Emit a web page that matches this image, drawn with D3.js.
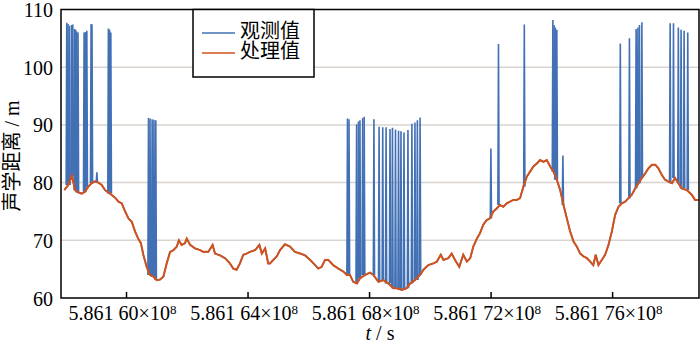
<!DOCTYPE html>
<html>
<head>
<meta charset="utf-8">
<script src="https://cdn.jsdelivr.net/npm/d3@7"></script>
<style>
  body { margin: 0; background: #fff; }
  svg text { font-family: "Liberation Serif", "Times New Roman", "Noto Sans CJK SC", serif; fill: #000; }
</style>
</head>
<body>
<script>
//Width and height
var w = 700;
var h = 348;
var plotLeft = 61, plotRight = 699, plotTop = 9.5, plotBottom = 298;

//Time: t - 5.861x10^8 s, in units of 10^3 s (so 60 means 5.861 60x10^8 s)
var timeK = [
  57.97, 58.10, 58.22, 58.32, 58.43, 58.54, 58.65, 58.76, 58.87, 58.98,
  59.09, 59.20, 59.31, 59.47, 59.64, 59.75, 59.86, 59.97, 60.08, 60.19,
  60.30, 60.40, 60.49, 60.57, 60.68, 60.79, 60.90, 61.01, 61.12, 61.23,
  61.34, 61.45, 61.56, 61.67, 61.74, 61.83, 61.94, 62.00, 62.11, 62.27,
  62.44, 62.54, 62.71, 62.85, 62.93, 63.09, 63.26, 63.42, 63.53, 63.64,
  63.75, 63.86, 63.97, 64.08, 64.25, 64.39, 64.47, 64.58, 64.68, 64.74,
  64.85, 64.96, 65.07, 65.23, 65.40, 65.56, 65.73, 65.89, 66.06, 66.17,
  66.33, 66.44, 66.55, 66.66, 66.82, 66.99, 67.15, 67.27, 67.37, 67.48,
  67.60, 67.70, 67.87, 68.03, 68.14, 68.31, 68.47, 68.64, 68.80, 68.91,
  69.08, 69.24, 69.35, 69.51, 69.68, 69.79, 69.95, 70.12, 70.23, 70.36,
  70.45, 70.61, 70.72, 70.83, 70.97, 71.10, 71.22, 71.33, 71.43, 71.55,
  71.65, 71.76, 71.87, 71.98, 72.09, 72.20, 72.31, 72.42, 72.53, 72.64,
  72.75, 72.86, 72.97, 73.08, 73.19, 73.30, 73.41, 73.52, 73.63, 73.74,
  73.85, 73.96, 74.07, 74.18, 74.29, 74.40, 74.51, 74.62, 74.73, 74.84,
  74.95, 75.06, 75.17, 75.28, 75.38, 75.46, 75.55, 75.66, 75.77, 75.88,
  75.99, 76.10, 76.21, 76.32, 76.43, 76.54, 76.65, 76.76, 76.87, 76.98,
  77.09, 77.20, 77.31, 77.42, 77.52, 77.64, 77.74, 77.85, 77.97, 78.07,
  78.18, 78.29, 78.46, 78.62, 78.73, 78.84
];

//Processed distance (m)
var processed = [
  78.7, 79.6, 81.2, 78.7, 78.3, 78.1, 78.4, 79.3, 79.9, 80.2,
  80.0, 79.6, 78.7, 78.1, 77.4, 76.7, 76.4, 75.0, 73.8, 73.2,
  71.5, 70.3, 69.5, 67.5, 65.4, 64.0, 63.7, 63.1, 63.2, 63.7,
  66.0, 68.0, 68.3, 68.9, 70.0, 69.2, 69.5, 70.3, 69.2, 68.6,
  68.3, 68.0, 68.0, 69.2, 67.7, 67.4, 66.9, 66.0, 65.1, 64.9,
  66.0, 67.5, 67.7, 68.0, 68.3, 69.2, 67.7, 68.6, 66.0, 66.0,
  66.6, 67.2, 68.3, 69.3, 68.9, 68.0, 67.7, 67.4, 66.6, 66.0,
  65.1, 65.4, 66.6, 66.6, 65.7, 65.1, 64.6, 64.0, 64.0, 62.8,
  62.5, 63.4, 64.0, 64.4, 64.0, 62.8, 63.1, 62.5, 61.7, 61.7,
  61.4, 61.7, 62.5, 63.1, 64.0, 64.9, 65.7, 66.0, 66.3, 67.5,
  66.6, 66.9, 67.7, 66.6, 65.4, 67.5, 66.3, 66.9, 68.9, 70.3,
  71.2, 72.7, 73.5, 73.8, 75.0, 75.5, 76.1, 75.8, 76.4, 76.7,
  77.0, 77.0, 77.3, 79.3, 81.0, 81.9, 82.8, 83.3, 83.9, 83.6,
  83.9, 82.8, 81.9, 80.5, 78.7, 76.1, 73.8, 71.5, 69.8, 68.9,
  67.7, 67.2, 66.9, 66.3, 65.7, 67.5, 65.7, 66.6, 67.5, 69.2,
  71.5, 74.4, 75.8, 76.4, 76.7, 77.3, 77.9, 79.0, 79.9, 80.8,
  81.6, 82.5, 83.1, 83.1, 82.5, 81.3, 80.5, 80.2, 79.9, 80.8,
  79.9, 79.0, 78.7, 77.9, 77.0, 77.0
];

//Observed outliers (same time unit), the rest of the observed series follows the processed one
var spikeTime = [
  58.05, 58.09, 58.14, 58.21, 58.25, 58.31, 58.34, 58.38, 58.42, 58.62,
  58.66, 58.71, 58.85, 58.88, 59.04, 59.42, 59.46, 59.50,
  60.74, 60.79, 60.86, 60.92, 60.98,
  67.29, 67.34, 67.59, 67.65, 67.70, 67.79, 67.84, 68.16, 68.33, 68.45,
  68.56, 68.69, 68.77, 68.87, 68.97, 69.05, 69.15, 69.28, 69.41, 69.51,
  69.59, 69.68,
  72.01, 72.26, 73.11, 74.05, 74.09, 74.13, 74.18, 74.38,
  76.27, 76.57, 76.79, 76.85, 76.90, 76.98, 77.91, 78.02, 78.18, 78.27,
  78.37, 78.49
];
var spikeValue = [
  107.7, 107.5, 107.2, 107.3, 107.4, 106.6, 106.5, 106.2, 106.0, 106.0,
  106.1, 106.3, 107.5, 107.4, 81.8, 106.7, 106.5, 106.0,
  91.2, 91.1, 91.0, 90.9, 90.8,
  91.1, 91.0, 90.1, 90.6, 90.8, 91.2, 91.4, 91.0, 89.7, 89.6,
  89.6, 89.3, 89.5, 89.2, 89.0, 88.9, 88.7, 89.1, 90.2, 90.4,
  90.8, 91.3,
  85.9, 104.0, 107.4, 108.2, 107.3, 106.9, 106.5, 84.7,
  104.1, 105.0, 106.6, 106.9, 107.3, 107.8, 107.6, 107.6, 106.9, 106.5,
  106.3, 106.0
];

var xTicks = [60, 64, 68, 72, 76];
var yTicks = [60, 70, 80, 90, 100, 110];
var seriesNames = ["观测值", "处理值"];
var colors = ["#4270b4", "#d2521b"];

//Build series
var processedData = timeK.map(function(t, i) { return { t: t, v: processed[i] }; });
var bisect = d3.bisector(d => d.t).center;
var spikeData = spikeTime.map(function(t, i) {
  //the outlier leaves and returns to the nearest processed sample
  var base = processedData[bisect(processedData, t)].v;
  return [{ t: t - 0.02, v: base }, { t: t, v: spikeValue[i] }, { t: t + 0.02, v: base }];
});

//Scales
var xScale = d3.scaleLinear().domain([57.86, 78.86]).range([plotLeft, plotRight]);
var yScale = d3.scaleLinear().domain([60, 110]).range([plotBottom, plotTop]);

var svg = d3.select("body").append("svg")
  .attr("width", w)
  .attr("height", h);

svg.append("clipPath").attr("id", "plot")
  .append("rect")
  .attr("x", plotLeft).attr("y", plotTop)
  .attr("width", plotRight - plotLeft).attr("height", plotBottom - plotTop);

//Gridlines
svg.selectAll("line.grid")
  .data(yTicks.slice(1, -1))
  .enter()
  .append("line")
  .attr("class", "grid")
  .attr("x1", plotLeft).attr("x2", plotRight)
  .attr("y1", d => yScale(d)).attr("y2", d => yScale(d))
  .attr("stroke", "#d9d4cf")
  .attr("stroke-width", 1.5);

var line = d3.line()
  .x(d => xScale(d.t))
  .y(d => yScale(d.v));

//Observed: baseline plus outliers
var obs = svg.append("g")
  .attr("clip-path", "url(#plot)")
  .attr("fill", "none")
  .attr("stroke", colors[0])
  .attr("stroke-width", 1.6);
obs.append("path")
  .datum(processedData)
  .attr("d", line);
obs.selectAll("path.spike")
  .data(spikeData)
  .enter()
  .append("path")
  .attr("class", "spike")
  .attr("d", line);

//Processed
svg.append("path")
  .datum(processedData)
  .attr("clip-path", "url(#plot)")
  .attr("d", line)
  .attr("fill", "none")
  .attr("stroke", colors[1])
  .attr("stroke-width", 2);

//Frame
svg.append("rect")
  .attr("x", plotLeft).attr("y", plotTop)
  .attr("width", plotRight - plotLeft).attr("height", plotBottom - plotTop)
  .attr("fill", "none")
  .attr("stroke", "#000")
  .attr("stroke-width", 1.5);

//Y axis
var yAxis = svg.append("g")
  .attr("transform", "translate(" + plotLeft + ",0)")
  .call(d3.axisLeft(yScale).tickValues(yTicks).tickSize(0).tickPadding(8));
yAxis.select(".domain").remove();
yAxis.selectAll("text")
  .style("font-size", "20px")
  .attr("dy", "0.35em");

//X axis
var xAxis = svg.append("g")
  .attr("transform", "translate(0," + plotBottom + ")")
  .call(d3.axisBottom(xScale).tickValues(xTicks).tickSizeInner(-6).tickSizeOuter(0));
xAxis.select(".domain").remove();
xAxis.selectAll(".tick line").attr("stroke", "#000").attr("stroke-width", 1.5);
xAxis.selectAll(".tick text").each(function(d) {
  var t = d3.select(this).text("")
    .attr("y", 22).attr("dy", null).attr("dx", -4)
    .style("font-size", "20px");
  t.append("tspan").text("5.861 " + d + "×10");
  t.append("tspan").text("8").attr("dy", "-0.5em").style("font-size", "13px");
});

//X label
var xl = svg.append("text")
  .attr("x", (plotLeft + plotRight) / 2).attr("y", 340)
  .attr("text-anchor", "middle")
  .style("font-size", "20px");
xl.append("tspan").text("t").style("font-style", "italic");
xl.append("tspan").text(" / s");

//Y label
svg.append("text")
  .attr("transform", "translate(19,156) rotate(-90)")
  .attr("text-anchor", "middle")
  .style("font-size", "20px")
  .text("声学距离 / m");

//Legend
var lg = svg.append("g");
lg.append("rect")
  .attr("x", 193).attr("y", plotTop)
  .attr("width", 121).attr("height", 67.5)
  .attr("fill", "#fff")
  .attr("stroke", "#000")
  .attr("stroke-width", 1.5);
seriesNames.forEach(function(name, i) {
  var y = 33 + i * 20;
  lg.append("line")
    .attr("x1", 202).attr("x2", 235)
    .attr("y1", y).attr("y2", y)
    .attr("stroke", colors[i])
    .attr("stroke-width", 1.5);
  lg.append("text")
    .attr("x", 240).attr("y", y - 2)
    .attr("dy", "0.35em")
    .style("font-size", "20px")
    .text(name);
});
</script>
</body>
</html>
